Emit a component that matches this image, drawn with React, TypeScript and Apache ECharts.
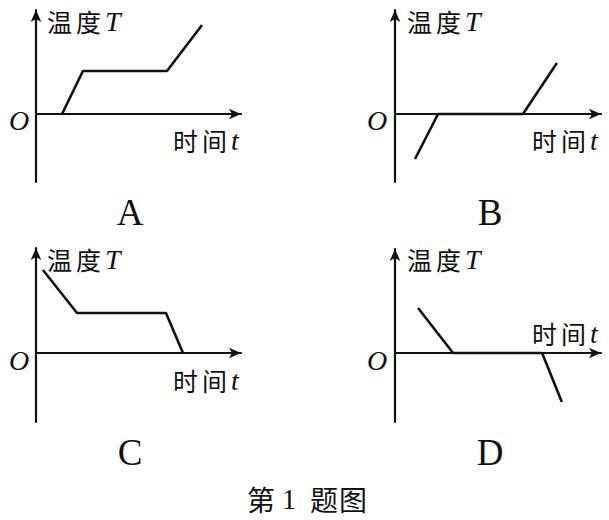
import React, { useEffect, useRef } from "react";
import * as echarts from "echarts";

// Panel labels and axis titles
const panelLetters = ["A", "B", "C", "D"];
const yTitle = ["温", "度", "T"];
const xTitle = ["时", "间", "t"];
const captionParts = ["第", "1", "题", "图"];

// Each panel: [time, temperature] vertices (abstract units)
const seriesA: [number, number][] = [[1.27, 0], [2.29, 4.13], [6.39, 4.13], [8.1, 8.56]];
const seriesB: [number, number][] = [[0.97, -4.33], [2.09, 0], [6.21, 0], [7.86, 4.9]];
const seriesC: [number, number][] = [[0.34, 7.9], [2.0, 3.81], [6.34, 3.81], [7.17, 0]];
const seriesD: [number, number][] = [[1.12, 4.33], [2.82, 0], [7.14, 0], [8.1, -4.71]];

// Axis ranges per panel
const yMin = [-6.54, -6.54, -6.57, -6.63];
const yMax = [10, 10, 10, 10];
const xMax = [10, 10, 10, 10];

const INK = "#111";

export default function App() {
  const ref = useRef<HTMLDivElement>(null);
  useEffect(() => {
    if (!ref.current) return;
    const chart = echarts.init(ref.current, undefined, { renderer: "svg" });

    const grids = [
      { left: 36, top: 10, width: 205, height: 172 },
      { left: 395, top: 10, width: 206, height: 172 },
      { left: 36, top: 248, width: 205, height: 174 },
      { left: 395, top: 249, width: 206, height: 173 },
    ];
    const allData = [seriesA, seriesB, seriesC, seriesD];

    const axisLine = {
      onZero: true,
      symbol: ["none", "arrow"],
      symbolSize: [8, 12],
      lineStyle: { color: INK, width: 2.2 },
    };

    const xAxes = grids.map((_, i) => ({
      type: "value",
      gridIndex: i,
      min: 0,
      max: xMax[i],
      axisLine,
      axisTick: { show: false },
      axisLabel: { show: false },
      splitLine: { show: false },
    }));
    const yAxes = grids.map((_, i) => ({
      type: "value",
      gridIndex: i,
      min: yMin[i],
      max: yMax[i],
      axisLine,
      axisTick: { show: false },
      axisLabel: { show: false },
      splitLine: { show: false },
    }));
    const series = allData.map((d, i) => ({
      type: "line",
      xAxisIndex: i,
      yAxisIndex: i,
      data: d,
      symbol: "none",
      lineStyle: { color: INK, width: 2.6 },
      silent: true,
    }));

    const rich = {
      c: { fontFamily: "Noto Sans CJK SC", fontSize: 25, fill: INK, width: 29, fontWeight: "normal" },
      i: { fontFamily: "Liberation Serif", fontStyle: "italic", fontSize: 28, fill: INK },
    };
    const yTitlePos = [[47, 21], [407, 21], [47, 259], [407, 259]];
    const xTitlePos = [[173, 140], [532, 140], [173, 380], [532, 333]];
    const oPos = [[19, 120], [377, 120], [19, 360], [377, 360]];
    const letterPos = [[130, 212], [490, 212], [130, 452], [490, 452]];

    const graphic: any[] = [];
    for (let i = 0; i < 4; i++) {
      graphic.push({
        type: "text",
        x: yTitlePos[i][0],
        y: yTitlePos[i][1],
        style: {
          text: `{c|${yTitle[0]}}{c|${yTitle[1]}}{i|${yTitle[2]}}`,
          rich,
          verticalAlign: "middle",
          align: "left",
        },
      });
      graphic.push({
        type: "text",
        x: xTitlePos[i][0],
        y: xTitlePos[i][1],
        style: {
          text: `{c|${xTitle[0]}}{c|${xTitle[1]}}{i|${xTitle[2]}}`,
          rich,
          verticalAlign: "middle",
          align: "left",
        },
      });
      graphic.push({
        type: "text",
        x: oPos[i][0],
        y: oPos[i][1],
        style: {
          text: "O",
          font: "italic 28px 'Liberation Serif'",
          fill: INK,
          align: "center",
          verticalAlign: "middle",
        },
      });
      graphic.push({
        type: "text",
        x: letterPos[i][0],
        y: letterPos[i][1],
        style: {
          text: panelLetters[i],
          font: "37px 'Liberation Serif'",
          fill: INK,
          align: "center",
          verticalAlign: "middle",
        },
      });
    }
    // caption "第 1 题图"
    const capCjk = "28px 'Noto Sans CJK SC'";
    const capX = [261, 289, 324, 353];
    captionParts.forEach((p, k) => {
      graphic.push({
        type: "text",
        x: capX[k],
        y: 499,
        style: {
          text: p,
          font: k === 1 ? "29px 'Liberation Serif'" : capCjk,
          fill: INK,
          align: "center",
          verticalAlign: "middle",
        },
      });
    });

    chart.setOption({
      animation: false,
      backgroundColor: "#fff",
      grid: grids.map((g) => ({ ...g, containLabel: false })),
      xAxis: xAxes,
      yAxis: yAxes,
      series,
      graphic,
    } as any);

    return () => chart.dispose();
  }, []);

  return (
    <div
      ref={ref}
      style={{ position: "fixed", left: 0, top: 0, width: 609, height: 520, background: "#fff" }}
    />
  );
}
